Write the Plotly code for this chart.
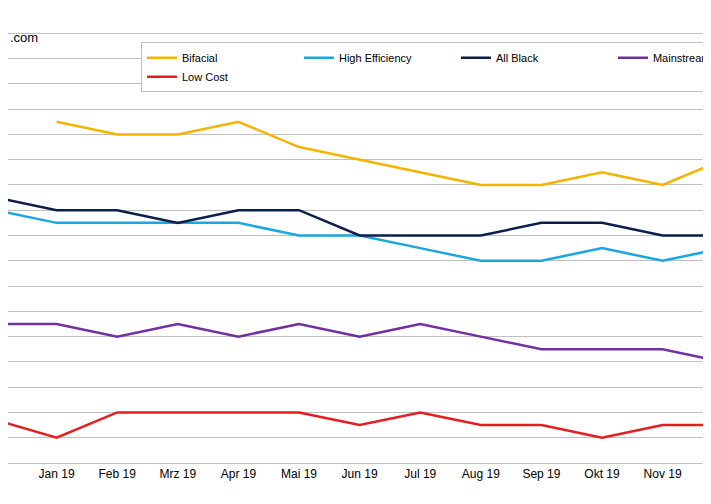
import plotly.graph_objects as go

months = ["Dez 18", "Jan 19", "Feb 19", "Mrz 19", "Apr 19", "Mai 19", "Jun 19",
          "Jul 19", "Aug 19", "Sep 19", "Okt 19", "Nov 19", "Dez 19"]

bifacial = [None, 0.47, 0.46, 0.46, 0.47, 0.45, 0.44, 0.43, 0.42, 0.42, 0.43, 0.42, 0.44]
high_eff = [0.40, 0.39, 0.39, 0.39, 0.39, 0.38, 0.38, 0.37, 0.36, 0.36, 0.37, 0.36, 0.37]
all_black = [0.41, 0.40, 0.40, 0.39, 0.40, 0.40, 0.38, 0.38, 0.38, 0.39, 0.39, 0.38, 0.38]
mainstream = [0.31, 0.31, 0.30, 0.31, 0.30, 0.31, 0.30, 0.31, 0.30, 0.29, 0.29, 0.29, 0.28]
low_cost = [0.234, 0.22, 0.24, 0.24, 0.24, 0.24, 0.23, 0.24, 0.23, 0.23, 0.22, 0.23, 0.23]

series = [
    ("Bifacial", bifacial, "#F5B400"),
    ("High Efficiency", high_eff, "#1AA7E0"),
    ("All Black", all_black, "#0B1F4D"),
    ("Mainstream", mainstream, "#7030A0"),
    ("Low Cost", low_cost, "#E41E1E"),
]

x = list(range(len(months)))
fig = go.Figure()
for name, vals, col in series:
    fig.add_trace(go.Scatter(x=x, y=vals, name=name, mode="lines",
                             line=dict(color=col, width=2.5)))

fig.update_layout(
    width=711, height=504,
    margin=dict(l=0, r=0, t=0, b=49, autoexpand=False),
    plot_bgcolor="white", paper_bgcolor="white",
    font=dict(family="Liberation Sans", size=11, color="#000"),
    showlegend=True,
    legend=dict(orientation="h", x=0.187, y=0.925, xanchor="left", yanchor="top",
                bordercolor="#BFBFBF", borderwidth=1, bgcolor="white",
                font=dict(size=11), entrywidth=112, entrywidthmode="pixels",
                itemwidth=30),
    xaxis=dict(range=[0.198, 11.93], tickvals=x, ticktext=months,
               showgrid=False, showline=True, linecolor="#BFBFBF",
               ticks="", tickfont=dict(size=12), automargin=False),
    yaxis=dict(range=[0.20, 0.56], dtick=0.02, showgrid=True,
               gridcolor="#BFBFBF", showticklabels=False, zeroline=False,
               automargin=False),
)
fig.add_annotation(text=".com", x=0, y=0.955, xref="paper", yref="paper",
                   xanchor="left", showarrow=False, font=dict(size=13))

fig.write_html("out.html")
